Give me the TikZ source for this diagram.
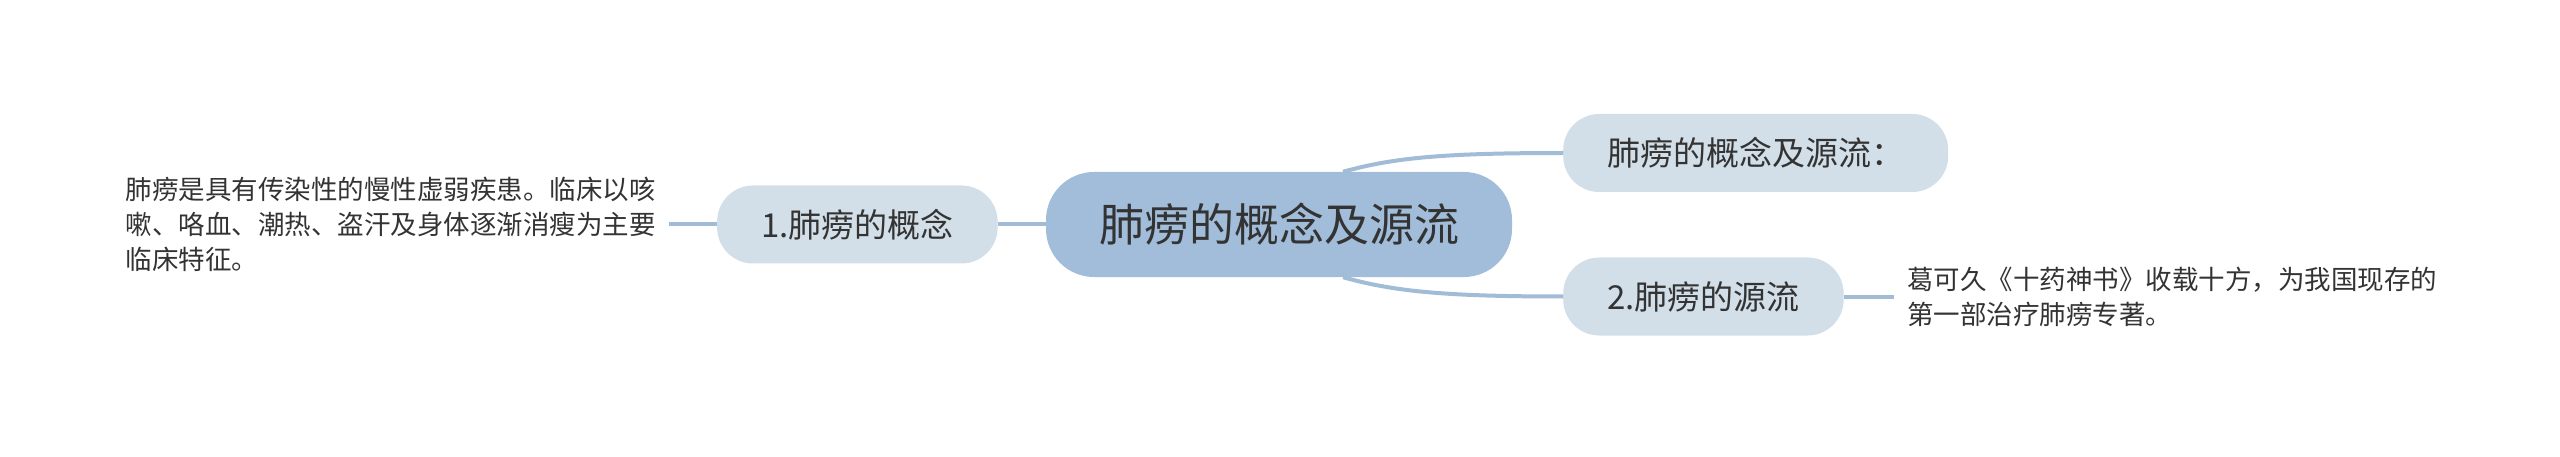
\documentclass[tikz,border=0pt]{standalone}
\usepackage{fontspec}
\setmainfont{Noto Sans CJK SC}
\usepackage{xcolor}
\usepackage{tikz}
\usetikzlibrary{positioning}
\definecolor{rootblue}{HTML}{A1BDD9}
\definecolor{topicblue}{HTML}{D3DFE8}
\definecolor{linkblue}{HTML}{A1BCD6}
\definecolor{txtgray}{HTML}{333333}

\begin{document}
\begin{tikzpicture}[x=1pt, y=-1pt]
            %Block styles
            \tikzstyle{root} = [fill=rootblue, rounded corners=48pt, minimum height=105pt, inner xsep=53pt, text=txtgray, font=\fontsize{45}{54}\selectfont]
            \tikzstyle{topic} = [fill=topicblue, rounded corners=36pt, minimum height=78pt, inner xsep=44pt, text=txtgray, font=\fontsize{33}{39}\selectfont]
            \tikzstyle{note} = [align=left, inner xsep=13pt, inner ysep=0pt, text=txtgray, font=\fontsize{26.5}{35}\selectfont]
            \tikzstyle{link} = [draw=linkblue, line width=4pt]

            \useasboundingbox (0,0) rectangle (2560,457);

            %Nodes
            \node[root] at (1279,224.5) (root) {肺痨的概念及源流};
            \node[topic, left=48pt of root] (c1) {1.肺痨的概念};
            \node[topic, anchor=west] at (1563,153) (c0) {肺痨的概念及源流：};
            \node[topic, anchor=west] at (1563,296.5) (c2) {2.肺痨的源流};
            \node[note, left=48pt of c1] (n1) {肺痨是具有传染性的慢性虚弱疾患。临床以咳\\嗽、咯血、潮热、盗汗及身体逐渐消瘦为主要\\临床特征。};
            \node[note, right=50pt of c2] (n2) {葛可久《十药神书》收载十方，为我国现存的\\第一部治疗肺痨专著。};

            %Connectors
            \draw[link] (root.west) -- (c1.east);
            \draw[link] (c1.west) -- (n1.east);
            \draw[link] ([xshift=64pt]root.north) .. controls +(50,-14) and +(-120,0) .. (c0.west);
            \draw[link] ([xshift=64pt]root.south) .. controls +(50,14) and +(-120,0) .. (c2.west);
            \draw[link] (c2.east) -- (n2.west);
        \end{tikzpicture}
\end{document}
